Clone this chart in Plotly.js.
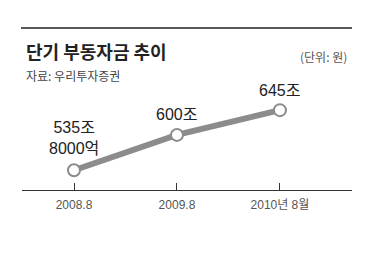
<!DOCTYPE html>
<html>
<head>
<meta charset="utf-8">
<script src="https://cdn.plot.ly/plotly-3.0.1.min.js"></script>
<style>
html,body{margin:0;padding:0;background:#fff;}
#chart{width:371px;height:256px;}
</style>
</head>
<body>
<div id="chart"></div>
<script>
// Data
const periods = [0, 1, 2];
const tickLabels = ["2008.8", "2009.8", "2010년 8월"];
const values = [535.8, 600, 645];          // 단위: 조원
const valueLabels = ["535조<br>8000억", "600조", "645조"];

const FONT = '"Noto Sans CJK KR", "Noto Sans", sans-serif';
const NUMFONT = '"Liberation Sans", "Noto Sans CJK KR", sans-serif';

const trace = {
  x: periods,
  y: values,
  type: 'scatter',
  mode: 'lines+markers',
  line: {color: '#8c8c8c', width: 6},
  marker: {size: 12, color: '#ffffff', line: {color: '#8c8c8c', width: 2}},
  hoverinfo: 'skip',
  cliponaxis: false
};

// paper-coordinate helpers (plot area: x 22..352, y 60..190 in pixels)
const L = 22, R = 19, T = 60, B = 66, W = 371, H = 256;
const pw = W - L - R, ph = H - T - B;
const px = v => (v - L) / pw;
const py = v => (H - B - v) / ph;

const annotations = values.map((v, i) => ({
  x: periods[i], y: v, xref: 'x', yref: 'y',
  text: valueLabels[i], showarrow: false,
  yanchor: 'middle', xanchor: 'center',
  yshift: i === 0 ? 32 : 20,
  font: {family: NUMFONT, size: 16, color: '#222'}
}));

annotations.push(
  {x: px(24), y: py(51), xref: 'paper', yref: 'paper', xanchor: 'left', yanchor: 'middle',
   text: '<b>단기 부동자금 추이</b>', showarrow: false,
   font: {family: FONT, size: 18, color: '#222'}},
  {x: px(24), y: py(75), xref: 'paper', yref: 'paper', xanchor: 'left', yanchor: 'middle',
   text: '자료: 우리투자증권', showarrow: false,
   font: {family: FONT, size: 12, color: '#444'}},
  {x: px(349), y: py(56), xref: 'paper', yref: 'paper', xanchor: 'right', yanchor: 'middle',
   text: '(단위: 원)', showarrow: false,
   font: {family: FONT, size: 12, color: '#555'}}
);

const layout = {
  width: W, height: H,
  margin: {l: L, r: R, t: T, b: B, pad: 0},
  paper_bgcolor: '#fff', plot_bgcolor: '#fff',
  showlegend: false,
  font: {family: FONT},
  xaxis: {
    range: [-0.505, 2.70],
    tickvals: periods, ticktext: tickLabels,
    showline: true, linecolor: '#333', linewidth: 1,
    ticks: 'inside', ticklen: 7, tickcolor: '#333', tickwidth: 1,
    ticklabelstandoff: 4,
    showgrid: false, zeroline: false,
    tickfont: {family: NUMFONT, size: 12, color: '#555'},
    fixedrange: true
  },
  yaxis: {
    range: [500, 736], visible: false, fixedrange: true
  },
  shapes: [
    {type: 'line', xref: 'paper', yref: 'paper', x0: px(21), x1: px(352), y0: py(28), y1: py(28),
     line: {color: '#222', width: 1.3}}
  ],
  annotations: annotations
};

Plotly.newPlot('chart', [trace], layout, {displayModeBar: false, staticPlot: true});
</script>
</body>
</html>
